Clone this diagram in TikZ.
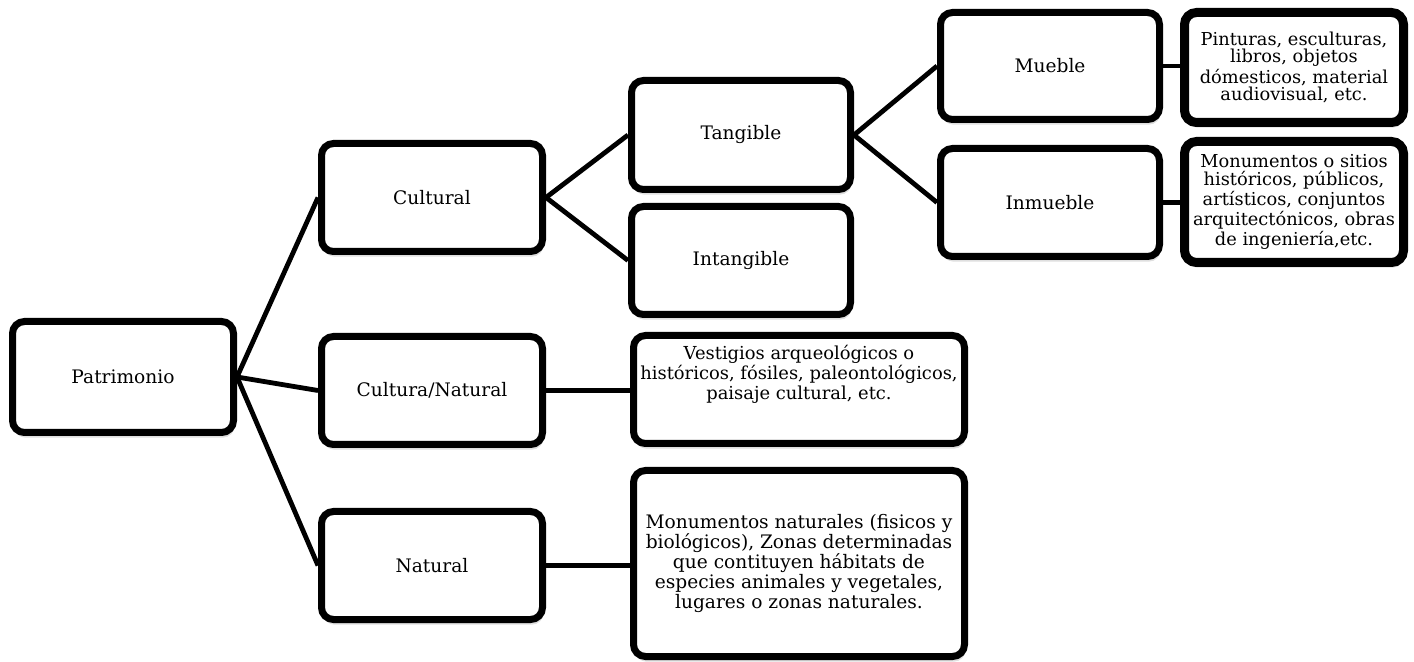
\documentclass[tikz,border=0pt]{standalone}
\usepackage{fontspec}
\setmainfont{DejaVu Serif}
\usetikzlibrary{shadows}
\begin{document}
\begin{tikzpicture}[x=0.5pt,y=-0.5pt,
  box/.style={draw=black, line width=3.5pt, rounded corners=6pt, fill=white,
    align=center, font=\fontsize{9.3}{10}\selectfont, inner sep=0pt,
    minimum width=110.5pt, minimum height=54pt,
    drop shadow={shadow xshift=0.6pt, shadow yshift=-2.6pt, opacity=0.25}},
  smallbox/.style={box, line width=4.5pt, font=\fontsize{8.9}{8.85}\selectfont},
  txt/.style={align=center, font=\fontsize{8.95}{10}\selectfont, inner sep=0pt},
  link/.style={line width=2.4pt}]
\useasboundingbox (0,0) rectangle (1414,662);
% level 0
\node[box, minimum height=55.5pt] (pat) at (123,377) {Patrimonio};
% level 1
\node[box] (cul) at (432,197.5) {Cultural};
\node[box] (cn) at (432,390.5) {Cultura/Natural};
\node[box] (nat) at (432,565.5) {Natural};
% level 2
\node[box, minimum width=109.5pt, minimum height=54.5pt] (tan) at (741,135) {Tangible};
\node[box, minimum width=109.5pt] (int) at (741,260.5) {Intangible};
\node[box, minimum width=165.5pt] (ves) at (799,389.5) {};
\node[txt] (vest) at (799,374) {Vestigios arqueológicos o\\históricos, fósiles, paleontológicos,\\paisaje cultural, etc.};
\node[box, minimum width=165.5pt, minimum height=93pt] (mon) at (799,563.5)
  {Monumentos naturales (fisicos y\\biológicos), Zonas determinadas\\que contituyen hábitats de\\especies animales y vegetales,\\lugares o zonas naturales.};
% level 3
\node[box, minimum width=109.5pt, minimum height=53.5pt] (mue) at (1050,66) {Mueble};
\node[box, minimum width=109.5pt, minimum height=54pt] (inm) at (1050,202.5) {Inmueble};
% level 4
\node[smallbox, minimum width=109.5pt, minimum height=55pt] (pin) at (1294,67.5)
  {Pinturas, esculturas,\\libros, objetos\\dómesticos, material\\audiovisual, etc.};
\node[smallbox, minimum width=109.5pt, minimum height=60.5pt] (mnt) at (1294,202)
  {Monumentos o sitios\\históricos, públicos,\\artísticos, conjuntos\\arquitectónicos, obras\\de ingeniería,etc.};
% connectors
\draw[link] (pat.east) -- (cul.west);
\draw[link] (pat.east) -- (cn.west);
\draw[link] (pat.east) -- (nat.west);
\draw[link] (cul.east) -- (tan.west);
\draw[link] (cul.east) -- (int.west);
\draw[link] (tan.east) -- (mue.west);
\draw[link] (tan.east) -- (inm.west);
\draw[link] (mue.east) -- (mue.east -| pin.west);
\draw[link] (inm.east) -- (inm.east -| mnt.west);
\draw[link] (cn.east) -- (cn.east -| ves.west);
\draw[link] (nat.east) -- (nat.east -| mon.west);
\end{tikzpicture}
\end{document}
